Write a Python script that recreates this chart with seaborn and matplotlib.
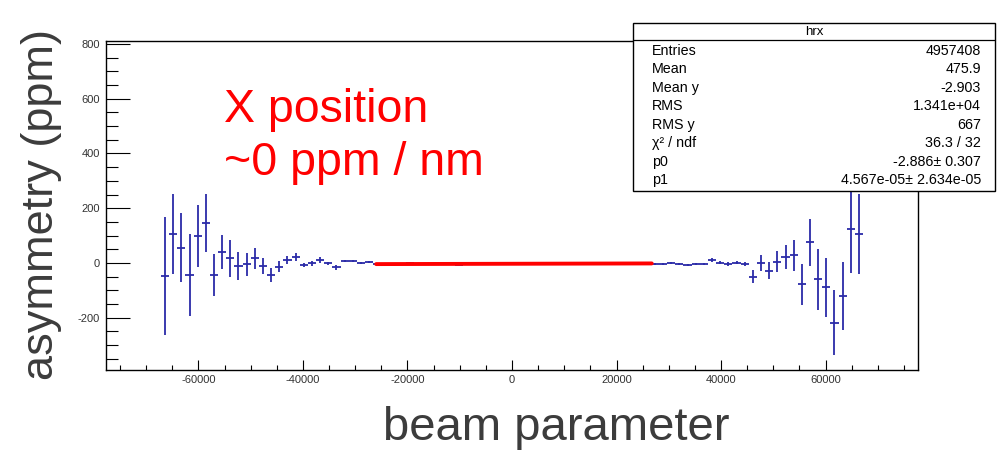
import numpy as np
import matplotlib
matplotlib.use("Agg")
import matplotlib.pyplot as plt
import seaborn as sns
from matplotlib.ticker import MultipleLocator
from matplotlib.patches import Rectangle
from matplotlib.lines import Line2D

# bin centres of hrx (bin width 1562.5)
bin_x = [-66406, -64844, -63281, -61719, -60156, -58594, -57031, -55469, -53906,
         -52344, -50781, -49219, -47656, -46094, -44531, -42969, -41406, -39844,
         -38281, -36719, -35156, -33594, -32031, -30469, -28906, -27344, -25781,
         -24219, -22656, -21094, -19531, -17969, -16406, -14844, -13281, -11719,
         -10156, -8594, -7031, -5469, -3906, -2344, -781, 781, 2344, 3906, 5469,
         7031, 8594, 10156, 11719, 13281, 14844, 16406, 17969, 19531, 21094, 22656,
         24219, 25781,
         27344, 28906, 30469, 32031, 33594, 35156, 36719, 38281, 39844, 41406,
         42969, 44531, 46094, 47656, 49219, 50781, 52344, 53906, 55469, 57031,
         58594, 60156, 61719, 63281, 64844, 66406]
asym = [-48, 106, 56, -44, 100, 146, -44, 40, 17, -11, -5, 17, -11, -44, -13, 11,
        21, -7, -1, 11, -1, -16, 7, 7, -1, 4, -3,
        -2, -4, -3, -1, -5, -3, -4, -2, -3, -6, -2, -3, -4, -3, -1, -3, -5, -2,
        -3, -4, -2, -3, -1, -3, -4, -2, -5, -3, -2, -4, -3, -2, -4,
        -4, -4, -1, -3, -8, -3, -4, 11, 1, -4, 1, -5, -50, 1, -28, 5, 21, 28,
        -78, 75, -60, -89, -218, -121, 124, 106]
asym_err = [216, 146, 127, 150, 113, 107, 77, 63, 68, 50, 42, 38, 29, 27, 21, 15,
            15, 8, 10, 10, 5, 8, 5, 4, 4, 3, 3,
            3, 3, 2, 3, 2, 3, 2, 3, 2, 3, 2, 3, 2, 3, 2, 3, 2, 3, 2, 3, 2, 3, 2,
            3, 2, 3, 2, 3, 2, 3, 2, 3, 3,
            3, 3, 3, 3, 4, 4, 5, 6, 5, 6, 6, 7, 23, 29, 32, 37, 43, 57, 75, 85,
            110, 107, 118, 125, 160, 145]
half_bin = 781

# linear fit pol1
p0 = -2.886
p1 = 4.567e-05
fit_range = [-26000, 26750]

stat_names = ["Entries", "Mean", "Mean y", "RMS", "RMS y", "χ² / ndf", "p0", "p1"]
stat_values = ["4957408", "475.9", "-2.903", "1.341e+04", "667", "36.3 / 32",
               "-2.886± 0.307", "4.567e-05± 2.634e-05"]

sns.set_style("white")
plt.rcParams["font.family"] = ["Liberation Sans", "DejaVu Sans"]
plt.rcParams["axes.unicode_minus"] = False

W, H = 997, 451
fig = plt.figure(figsize=(W / 100, H / 100), dpi=100)
ax = fig.add_axes([106 / W, 1 - 370 / H, (918 - 106) / W, (370 - 41) / H])

ax.errorbar(bin_x, asym, yerr=asym_err, xerr=half_bin, fmt="none",
            ecolor="#2b2ba8", elinewidth=1.3, capsize=0, zorder=2)

fit_x = np.array(fit_range, dtype=float)
sns.lineplot(x=fit_x, y=p0 + p1 * fit_x, color="red", lw=2.8, ax=ax, zorder=3)

ax.set_xlim(-77700, 77700)
ax.set_ylim(-391, 811)
ax.xaxis.set_major_locator(MultipleLocator(20000))
ax.xaxis.set_minor_locator(MultipleLocator(5000))
ax.yaxis.set_major_locator(MultipleLocator(200))
ax.yaxis.set_minor_locator(MultipleLocator(50))
ax.tick_params(axis="both", which="both", direction="in", bottom=True, left=True,
               top=False, right=False, colors="black", labelcolor="#333333",
               labelsize=8, width=0.8)
ax.tick_params(axis="y", which="major", length=17.3, pad=4.5)
ax.tick_params(axis="y", which="minor", length=8.6)
ax.tick_params(axis="x", which="major", length=7.2, pad=3.5)
ax.tick_params(axis="x", which="minor", length=3.6)
for s in ax.spines.values():
    s.set_color("black")
    s.set_linewidth(1.0)
ax.set_xlabel("")
ax.set_ylabel("")

fig.text(42 / W, 1 - 204 / H, "asymmetry (ppm)", rotation=90, ha="center",
         va="center", fontsize=32.5, color="#3c3c3c")
fig.text(556 / W, 1 - 440 / H, "beam parameter", ha="center", va="baseline",
         fontsize=34, color="#3c3c3c")

fig.text(224 / W, 1 - 121.7 / H, "X position", ha="left", va="baseline",
         fontsize=33.5, color="red")
fig.text(224 / W, 1 - 175 / H, "~0 ppm / nm", ha="left", va="baseline",
         fontsize=33.5, color="red")

# stats box
bx0, bx1, by0, by1 = 633, 995, 23, 191
fig.add_artist(Rectangle((bx0 / W, 1 - by1 / H), (bx1 - bx0) / W, (by1 - by0) / H,
                         transform=fig.transFigure, facecolor="white",
                         edgecolor="black", lw=1.0, zorder=5))
fig.add_artist(Line2D([bx0 / W, bx1 / W], [1 - 40 / H, 1 - 40 / H],
                      transform=fig.transFigure, color="black", lw=0.9, zorder=6))
fig.text((bx0 + bx1) / 2 / W, 1 - 32 / H, "hrx", ha="center", va="center",
         fontsize=9.5, color="black", zorder=7)
row_y = np.linspace(51, 180, len(stat_names))
for name, val, yy in zip(stat_names, stat_values, row_y):
    fig.text(652 / W, 1 - yy / H, name, ha="left", va="center", fontsize=10.3,
             color="black", zorder=7)
    fig.text(981 / W, 1 - yy / H, val, ha="right", va="center", fontsize=10.3,
             color="black", zorder=7)

fig.savefig("out.png", dpi=100)
